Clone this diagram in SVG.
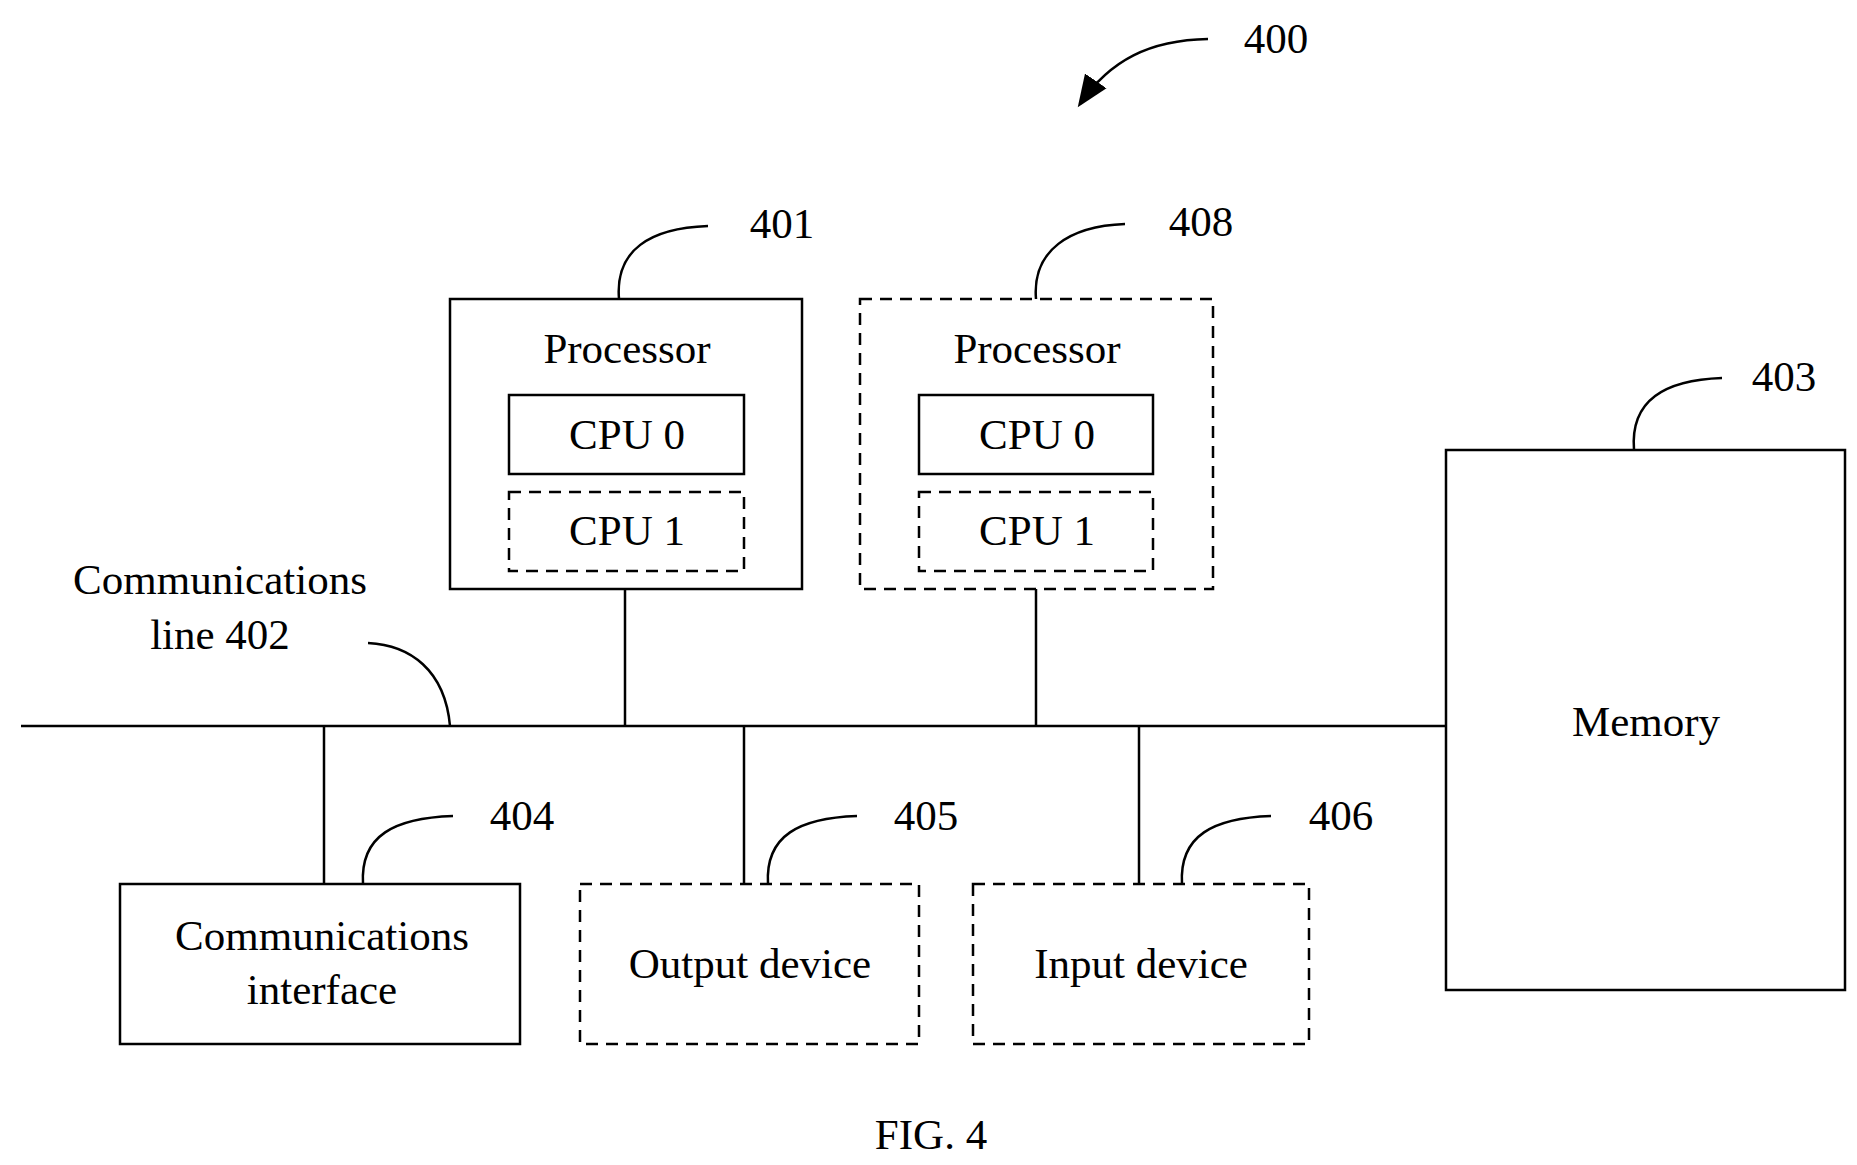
<svg xmlns="http://www.w3.org/2000/svg" width="1857" height="1165" viewBox="0 0 1857 1165">
<style>
rect{fill:none;stroke:#000;stroke-width:2.5}
.d{stroke-dasharray:12,8}
path,line{fill:none;stroke:#000;stroke-width:2.5}
path.ah{fill:#000;stroke:none}
text{font-family:"Liberation Serif",serif;font-size:43px;text-anchor:middle;fill:#000}
</style>
<defs>
<marker id="big" markerWidth="34" markerHeight="34" refX="28" refY="15" orient="auto" markerUnits="userSpaceOnUse"><path class="ah" d="M0,2 L32,15 L0,28 z"/></marker></defs>
<g id="connectors">
<line x1="21" y1="726" x2="1446" y2="726"/>
<line x1="625" y1="589" x2="625" y2="726"/>
<line x1="1036" y1="589" x2="1036" y2="726"/>
<line x1="324" y1="726" x2="324" y2="884"/>
<line x1="744" y1="726" x2="744" y2="884"/>
<line x1="1139" y1="726" x2="1139" y2="884"/>
</g>
<g id="labels">
<path d="M1208,39 C1150,40 1110,60 1080,104" marker-end="url(#big)"/>
<text x="1276" y="53">400</text>
<path d="M619,299 C615,250 650,228 708,226"/><text x="782" y="238">401</text>
<path d="M1036,299 C1032,250 1070,226 1125,224"/><text x="1201" y="236">408</text>
<path d="M1634,450 C1630,400 1665,380 1722,378"/><text x="1784" y="391">403</text>
<path d="M363,884 C360,835 395,818 453,816"/><text x="522" y="830">404</text>
<path d="M768,884 C765,835 800,818 857,816"/><text x="926" y="830">405</text>
<path d="M1182,884 C1179,835 1214,818 1271,816"/><text x="1341" y="830">406</text>
<path d="M368,643 C410,645 445,670 450,726"/>
<text x="220" y="594">Communications</text><text x="220" y="649">line 402</text>
<text x="931" y="1149">FIG. 4</text>
</g>
<g id="n401"><rect x="450" y="299" width="352" height="290"/><text x="627" y="363">Processor</text></g>
<g id="n401cpu0"><rect x="509" y="395" width="235" height="79"/><text x="627" y="449">CPU 0</text></g>
<g id="n401cpu1"><rect class="d" x="509" y="492" width="235" height="79"/><text x="627" y="545">CPU 1</text></g>
<g id="n408"><rect class="d" x="860" y="299" width="353" height="290"/><text x="1037" y="363">Processor</text></g>
<g id="n408cpu0"><rect x="919" y="395" width="234" height="79"/><text x="1037" y="449">CPU 0</text></g>
<g id="n408cpu1"><rect class="d" x="919" y="492" width="234" height="79"/><text x="1037" y="545">CPU 1</text></g>
<g id="n403"><rect x="1446" y="450" width="399" height="540"/><text x="1646" y="736">Memory</text></g>
<g id="n404"><rect x="120" y="884" width="400" height="160"/><text x="322" y="950">Communications</text><text x="322" y="1004">interface</text></g>
<g id="n405"><rect class="d" x="580" y="884" width="339" height="160"/><text x="750" y="978">Output device</text></g>
<g id="n406"><rect class="d" x="973" y="884" width="336" height="160"/><text x="1141" y="978">Input device</text></g>
</svg>
